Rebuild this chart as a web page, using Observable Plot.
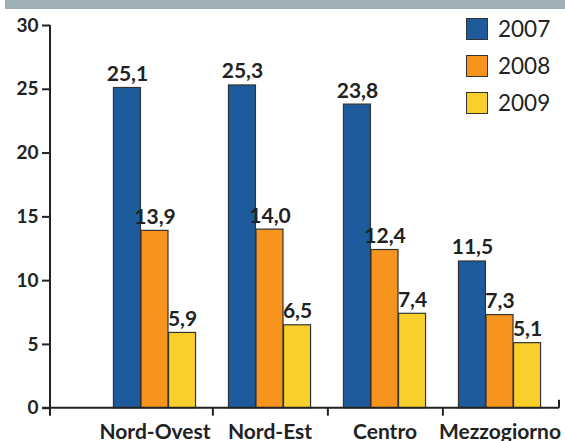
<!DOCTYPE html>
<html><head><meta charset="utf-8">
<script src="https://cdn.jsdelivr.net/npm/d3@7"></script>
<script src="https://cdn.jsdelivr.net/npm/@observablehq/plot@0.6"></script>
<style>
body{margin:0;background:#fff;font-family:Lato,sans-serif;color:#222}
#wrap{position:relative;width:565px;height:441px;overflow:hidden}
#band{margin-left:5px;height:9px;background:#9eafb8}
.item{position:absolute;left:466px;height:23px;display:flex;align-items:center}
.sw{width:20px;height:20px;border:1.5px solid #333;margin-right:10px}
.lt{font-size:22.5px;line-height:23px;color:#222}
</style></head>
<body>
<div id="wrap"><div id="band"></div><div id="chart"></div></div>
<script>
const regions = ["Nord-Ovest", "Nord-Est", "Centro", "Mezzogiorno"];
const years = ["2007", "2008", "2009"];
const v2007 = [25.1, 25.3, 23.8, 11.5];
const v2008 = [13.9, 14.0, 12.4, 7.3];
const v2009 = [5.9, 6.5, 7.4, 5.1];
const yTicks = [0, 5, 10, 15, 20, 25, 30];
const colors = ["#1d5b9c", "#f7941e", "#f9d02b"];

const series = [v2007, v2008, v2009];
const range = [96, 559];
const step = (range[1] - range[0]) / regions.length;
const bw = step * 0.238;
const fmt = v => v.toFixed(1).replace(".", ",");

const marks = [];
series.forEach((vals, i) => {
  const rows = regions.map((r, j) => ({region: r, value: vals[j]}));
  const dx = (i - 1) * bw;
  marks.push(Plot.barY(rows, {x: "region", y: "value", fill: colors[i], stroke: "#333", strokeWidth: 1.2, dx}));
  marks.push(Plot.text(rows, {x: "region", y: "value", text: d => fmt(d.value), dx, dy: -7, lineAnchor: "bottom", fontSize: 21, fontWeight: "bold", fill: "#222"}));
});
marks.push(Plot.axisY({ticks: yTicks, tickSize: 8, tickFormat: () => "", strokeWidth: 2}));
marks.push(Plot.text(yTicks.map(String), {y: d => +d, frameAnchor: "left", dx: -12, textAnchor: "end", text: d => d, fontSize: 19, fontWeight: "bold", fill: "#222"}));
marks.push(Plot.axisX({tickSize: 0, tickPadding: 16, fontSize: 21, fontWeight: "bold"}));
marks.push(Plot.axisX({ticks: regions.slice(0, 3), tickSize: 8, dx: step / 2, tickFormat: () => "", strokeWidth: 2}));

const plot = Plot.plot({
  width: 565, height: 432,
  marginLeft: 50, marginRight: 5, marginTop: 16, marginBottom: 33.3,
  style: {fontFamily: "Lato, sans-serif", fontSize: "17px", fontWeight: "bold", color: "#222", background: "transparent"},
  x: {domain: regions, range, paddingInner: 0.762, paddingOuter: 0.381, label: null},
  y: {domain: [0, 30], label: null},
  marks
});

const y = plot.scale("y");
const svg = d3.select(plot);
const y0 = y.apply(0), y30 = y.apply(30);
const g = svg.append("g").attr("stroke", "#222").attr("stroke-width", 2);
g.append("line").attr("x1", 50).attr("x2", 50).attr("y1", y30).attr("y2", y0 + 8);
g.append("line").attr("x1", 42).attr("x2", range[1]).attr("y1", y0).attr("y2", y0);
g.append("line").attr("x1", range[1]).attr("x2", range[1]).attr("y1", y0 - 8).attr("y2", y0);
document.getElementById("chart").appendChild(plot);

const wrap = document.getElementById("wrap");
years.forEach((yr, i) => {
  const it = document.createElement("div");
  it.className = "item";
  it.style.top = (17 + i * 37) + "px";
  it.innerHTML = `<div class="sw" style="background:${colors[i]}"></div><span class="lt">${yr}</span>`;
  wrap.appendChild(it);
});
</script>
</body></html>
